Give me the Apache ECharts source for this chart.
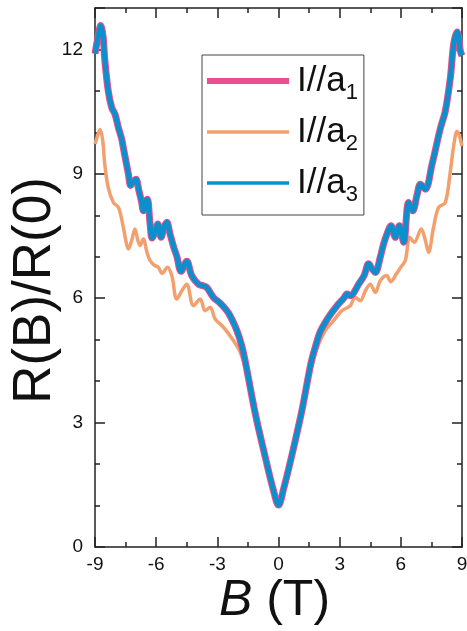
<!DOCTYPE html>
<html>
<head>
<meta charset="utf-8">
<script src="https://cdn.jsdelivr.net/npm/echarts@6/dist/echarts.min.js"></script>
<style>
html,body{margin:0;padding:0;background:#fff;}
#c{width:467px;height:631px;}
</style>
</head>
<body>
<div id="c"></div>
<script>
// ---- data ----
var seriesNames = ['I//a1', 'I//a2', 'I//a3'];
var xTicks = [-9, -6, -3, 0, 3, 6, 9];
var yTicks = [0, 3, 6, 9, 12];

var a3 = [
  [-9.0, 11.9], [-8.85, 12.3], [-8.72, 12.58], [-8.6, 12.3], [-8.52, 11.75], [-8.35, 11.0],
  [-8.18, 10.6], [-8.02, 10.44], [-7.85, 10.11], [-7.69, 9.84], [-7.61, 9.63], [-7.36, 8.99],
  [-7.25, 8.72], [-7.1, 8.82], [-6.99, 8.87], [-6.85, 8.6], [-6.71, 8.31], [-6.63, 8.11],
  [-6.5, 8.35], [-6.43, 8.39], [-6.3, 7.8], [-6.2, 7.45], [-6.05, 7.6], [-5.92, 7.79],
  [-5.76, 7.47], [-5.62, 7.7], [-5.48, 7.83], [-5.32, 7.55], [-5.15, 7.25], [-4.98, 7.0],
  [-4.78, 6.65], [-4.5, 6.89], [-4.25, 6.54], [-3.93, 6.34], [-3.7, 6.3], [-3.52, 6.26],
  [-3.19, 6.02], [-2.86, 5.88], [-2.45, 5.64], [-2.04, 5.22], [-1.8, 4.85], [-1.6, 4.4],
  [-1.14, 3.22], [-0.65, 2.17], [-0.25, 1.37], [0.0, 1.01], [0.25, 1.4], [0.65, 2.2],
  [1.15, 3.3], [1.6, 4.45], [1.85, 4.9], [2.05, 5.2], [2.45, 5.54], [2.87, 5.82],
  [3.2, 6.0], [3.36, 6.1], [3.52, 6.06], [3.93, 6.34], [4.2, 6.55], [4.42, 6.83],
  [4.6, 6.7], [4.75, 6.62], [4.99, 6.99], [5.15, 7.3], [5.32, 7.55], [5.52, 7.75],
  [5.73, 7.47], [5.93, 7.75], [6.14, 7.35], [6.38, 8.31], [6.58, 8.11], [6.8, 8.5],
  [6.96, 8.75], [7.2, 8.63], [7.53, 9.23], [7.94, 10.1], [8.18, 10.51], [8.43, 11.32],
  [8.59, 12.12], [8.76, 12.42], [8.85, 12.25], [8.92, 11.96], [9.0, 11.85]
];

var a1 = [
  [-9.0, 11.9], [-8.85, 12.3], [-8.72, 12.58], [-8.6, 12.3], [-8.52, 11.75], [-8.35, 11.0],
  [-8.18, 10.6], [-8.02, 10.44], [-7.85, 10.11], [-7.69, 9.84], [-7.61, 9.63], [-7.36, 8.99],
  [-7.25, 8.72], [-7.1, 8.82], [-6.99, 8.87], [-6.85, 8.6], [-6.71, 8.31], [-6.63, 8.11],
  [-6.5, 8.35], [-6.43, 8.39], [-6.3, 7.8], [-6.2, 7.45], [-6.05, 7.6], [-5.92, 7.79],
  [-5.76, 7.47], [-5.62, 7.7], [-5.48, 7.83], [-5.32, 7.55], [-5.15, 7.25], [-4.98, 7.0],
  [-4.78, 6.65], [-4.5, 6.89], [-4.25, 6.54], [-3.93, 6.34], [-3.7, 6.3], [-3.52, 6.26],
  [-3.19, 6.02], [-2.86, 5.88], [-2.45, 5.64], [-2.04, 5.22], [-1.8, 4.85], [-1.6, 4.4],
  [-1.14, 3.22], [-0.65, 2.17], [-0.25, 1.37], [0.0, 1.01], [0.25, 1.4], [0.65, 2.2],
  [1.15, 3.3], [1.6, 4.45], [1.85, 4.9], [2.05, 5.2], [2.45, 5.54], [2.87, 5.82],
  [3.2, 6.0], [3.36, 6.1], [3.52, 6.06], [3.93, 6.34], [4.2, 6.55], [4.42, 6.83],
  [4.6, 6.7], [4.75, 6.62], [4.99, 6.99], [5.15, 7.3], [5.32, 7.55], [5.52, 7.75],
  [5.73, 7.47], [5.93, 7.75], [6.14, 7.35], [6.38, 8.31], [6.58, 8.11], [6.8, 8.5],
  [6.96, 8.75], [7.2, 8.63], [7.53, 9.23], [7.94, 10.1], [8.18, 10.51], [8.43, 11.32],
  [8.59, 12.12], [8.76, 12.42], [8.85, 12.25], [8.92, 11.96], [9.0, 11.85]
];

var a2 = [
  [-9.0, 9.72], [-8.85, 9.95], [-8.75, 10.07], [-8.62, 9.8], [-8.52, 9.23], [-8.35, 8.67],
  [-8.1, 8.31], [-7.85, 8.19], [-7.61, 7.71], [-7.45, 7.3], [-7.36, 7.19], [-7.2, 7.4],
  [-7.04, 7.67], [-6.9, 7.4], [-6.79, 7.27], [-6.63, 7.43], [-6.45, 7.1], [-6.3, 6.91],
  [-6.1, 6.8], [-5.9, 6.75], [-5.7, 6.6], [-5.45, 6.75], [-5.23, 6.54], [-4.99, 5.98],
  [-4.74, 6.18], [-4.5, 6.34], [-4.17, 5.82], [-3.84, 5.98], [-3.6, 5.7], [-3.35, 5.78],
  [-3.11, 5.5], [-2.7, 5.3], [-2.21, 4.98], [-1.88, 4.7], [-1.39, 3.95], [-1.0, 2.85],
  [-0.6, 2.0], [-0.25, 1.35], [0.0, 1.02], [0.25, 1.35], [0.6, 2.0], [1.0, 2.85],
  [1.4, 3.9], [1.88, 4.78], [2.29, 5.22], [2.7, 5.46], [3.11, 5.7], [3.52, 5.82],
  [3.77, 6.02], [4.01, 5.94], [4.26, 6.18], [4.5, 6.34], [4.75, 6.14], [4.99, 6.42],
  [5.3, 6.55], [5.5, 6.4], [5.8, 6.6], [6.0, 6.75], [6.22, 6.91], [6.44, 7.47],
  [6.66, 7.35], [7.0, 7.67], [7.2, 7.4], [7.36, 7.11], [7.6, 7.7], [7.85, 8.19],
  [8.18, 8.31], [8.43, 9.07], [8.6, 9.7], [8.76, 10.03], [8.88, 9.9], [9.0, 9.67]
];

// ---- chart ----
var colors = { 'I//a1': '#E94F8E', 'I//a2': '#F2A06E', 'I//a3': '#0A90CC' };
var FONT = '"Liberation Sans", Arial, sans-serif';
var axisColor = '#222';

function frameAxis(extra) {
  var base = {
    type: 'value',
    axisLine: { show: true, onZero: false, lineStyle: { color: axisColor, width: 1.5 } },
    axisTick: { show: true, inside: true, length: 10, lineStyle: { color: axisColor, width: 1.5 } },
    splitLine: { show: false },
    minorSplitLine: { show: false }
  };
  for (var k in extra) base[k] = extra[k];
  return base;
}

var chart = echarts.init(document.getElementById('c'), null, { renderer: 'canvas' });
chart.setOption({
  animation: false,
  backgroundColor: '#fff',
  grid: { left: 95, right: 5, top: 8, bottom: 84, containLabel: false, outerBoundsMode: 'none' },
  legend: {
    orient: 'vertical',
    left: 202,
    top: 55,
    padding: [3, 6, 9, 5],
    itemWidth: 82,
    itemHeight: 14,
    itemGap: 5,
    symbolKeepAspect: true,
    borderColor: '#444',
    borderWidth: 1,
    backgroundColor: '#fff',
    data: [
      { name: seriesNames[0], icon: 'path://M0,0H82V6H0Z', itemStyle: { color: colors['I//a1'] } },
      { name: seriesNames[1], icon: 'path://M0,0H82V3.5H0Z', itemStyle: { color: colors['I//a2'] } },
      { name: seriesNames[2], icon: 'path://M0,0H82V3.5H0Z', itemStyle: { color: colors['I//a3'] } }
    ],
    formatter: function (name) {
      return 'I//a{s|' + name.slice(-1) + '}';
    },
    textStyle: {
      fontFamily: FONT, fontSize: 35, color: '#111', lineHeight: 46, padding: [0, 0, 0, 3],
      rich: { s: { fontFamily: FONT, fontSize: 22, color: '#111', verticalAlign: 'bottom', lineHeight: 46 } }
    }
  },
  xAxis: [
    frameAxis({
      min: xTicks[0], max: xTicks[xTicks.length - 1], interval: 3, position: 'bottom',
      minorTick: { show: true, splitNumber: 2, length: 5, lineStyle: { color: axisColor, width: 1.5 } },
      axisLabel: { show: true, fontFamily: FONT, fontSize: 19, color: '#111', margin: 8 },
      name: '{i|B} (T)',
      nameLocation: 'middle',
      nameMoveOverlap: false,
      nameGap: 29,
      nameTextStyle: {
        fontFamily: FONT, fontSize: 50, color: '#111', padding: [0, 8, 0, 0],
        rich: { i: { fontFamily: FONT, fontSize: 50, fontStyle: 'italic', color: '#111' } }
      }
    }),
    frameAxis({
      min: xTicks[0], max: xTicks[xTicks.length - 1], interval: 3, position: 'top',
      minorTick: { show: true, splitNumber: 2, length: 5, lineStyle: { color: axisColor, width: 1.5 } },
      axisLabel: { show: false }
    })
  ],
  yAxis: [
    frameAxis({
      min: 0, max: 13, interval: 3, position: 'left',
      minorTick: { show: true, splitNumber: 3, length: 5, lineStyle: { color: axisColor, width: 1.5 } },
      axisLabel: {
        show: true, fontFamily: FONT, fontSize: 19, color: '#111', margin: 12,
        formatter: function (v) { return yTicks.indexOf(v) >= 0 ? String(v) : ''; }
      },
      name: 'R(B)/R(0)',
      nameLocation: 'middle',
      nameMoveOverlap: false,
      nameGap: 33,
      nameTextStyle: { fontFamily: FONT, fontSize: 53, color: '#111', padding: [0, 26, 0, 0] }
    }),
    frameAxis({
      min: 0, max: 13, interval: 3, position: 'right',
      minorTick: { show: true, splitNumber: 3, length: 5, lineStyle: { color: axisColor, width: 1.5 } },
      axisLabel: { show: false }
    })
  ],
  series: [
    { name: seriesNames[1], type: 'line', data: a2, symbol: 'none', smooth: 0.35, z: 2,
      lineStyle: { color: colors['I//a2'], width: 3.5 }, itemStyle: { color: colors['I//a2'] } },
    { name: seriesNames[0], type: 'line', data: a1, symbol: 'none', smooth: 0.35, z: 3,
      lineStyle: { color: colors['I//a1'], width: 7 }, itemStyle: { color: colors['I//a1'] } },
    { name: seriesNames[2], type: 'line', data: a3, symbol: 'none', smooth: 0.35, z: 4,
      lineStyle: { color: colors['I//a3'], width: 5 }, itemStyle: { color: colors['I//a3'] } }
  ]
});
</script>
</body>
</html>
